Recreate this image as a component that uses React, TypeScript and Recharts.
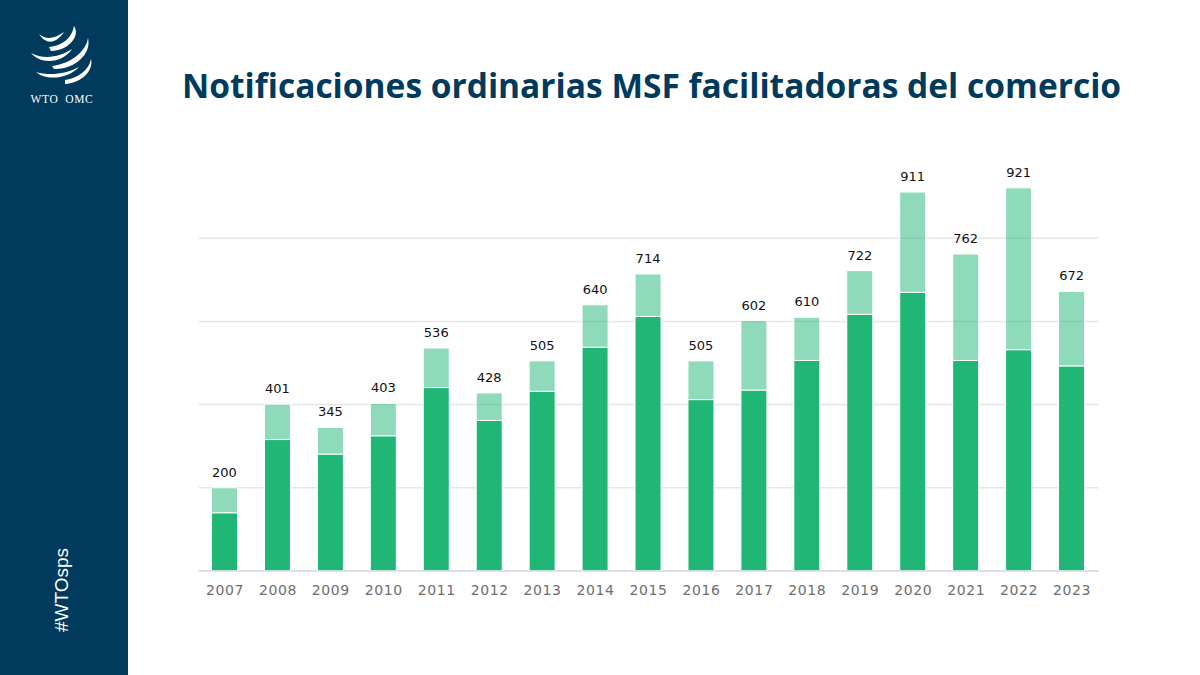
import { BarChart, Bar, XAxis, YAxis, CartesianGrid, LabelList } from 'recharts'

const years = ['2007', '2008', '2009', '2010', '2011', '2012', '2013', '2014', '2015', '2016', '2017', '2018', '2019', '2020', '2021', '2022', '2023']
const totals = [200, 401, 345, 403, 536, 428, 505, 640, 714, 505, 602, 610, 722, 911, 762, 921, 672]
const lower = [140, 316, 281, 325, 441, 362, 432, 538, 612, 412, 435, 506, 617, 670, 506, 532, 493]
const gridTicks = [0, 200, 400, 600, 800]

const data = years.map((year, i) => ({
  year,
  lower: lower[i],
  upper: totals[i]! - lower[i]!,
  total: totals[i],
}))

const NAVY = '#003a5c'
const GREEN = '#20b675'

// rough trace of the globe mark, the arcs taper so each one is a filled crescent
const logoArcs = [
  'M39 34 C46 40 54 39 64 32 C56 44 46 45 39 34 Z',
  'M49 47 C62 46 72 38 74 26 C81 36 68 51 51 51 Z',
  'M31 53 C44 60 60 57 72 49 C64 62 42 66 31 53 Z',
  'M52 66 C70 64 86 52 88 38 C92 54 74 70 54 69 Z',
  'M36 72 C50 76 66 74 79 67 C68 79 46 81 36 72 Z',
  'M65 80 C78 78 89 70 91 59 C94 70 82 83 65 84 Z',
]

export default function App() {
  return (
    <div style={{ position: 'absolute', left: 0, top: 0, width: 1200, height: 675, background: '#fff', overflow: 'hidden' }}>
      <div style={{ position: 'absolute', left: 0, top: 0, width: 128, height: 675, background: NAVY }} />
      <svg style={{ position: 'absolute', left: 0, top: 0 }} width={128} height={100}>
        {logoArcs.map((d) => (
          <path key={d} d={d} fill="#fff" />
        ))}
      </svg>
      <div style={{ position: 'absolute', left: 0, top: 93, width: 124, textAlign: 'center', color: '#fff', fontFamily: 'Liberation Serif', fontSize: 11.5, letterSpacing: 0.7, wordSpacing: 3 }}>
        WTO OMC
      </div>
      <div
        style={{
          position: 'absolute',
          left: 62,
          top: 632,
          color: '#fff',
          fontFamily: 'Liberation Sans',
          fontSize: 19,
          lineHeight: '22px',
          whiteSpace: 'nowrap',
          transformOrigin: '0 0',
          transform: 'rotate(-90deg) translateY(-11px)',
        }}
      >
        #WTOsps
      </div>
      <div style={{ position: 'absolute', left: 182, top: 62, color: NAVY, fontFamily: 'Open Sans', fontWeight: 700, fontSize: 33.5, lineHeight: '46px', whiteSpace: 'nowrap' }}>
        Notificaciones ordinarias MSF facilitadoras del comercio
      </div>
      <div style={{ position: 'absolute', left: 0, top: 0 }}>
        <BarChart
          width={1200}
          height={675}
          data={data}
          margin={{ top: 155, right: 101.5, bottom: 74, left: 198.5 }}
        >
          <CartesianGrid vertical={false} stroke="#e6e6e6" strokeWidth={1.5} horizontalValues={gridTicks} />
          <XAxis
            dataKey="year"
            axisLine={{ stroke: '#d9dcec', strokeWidth: 1.5 }}
            tickLine={false}
            interval={0}
            tickMargin={8}
            tick={{ fontFamily: 'DejaVu Sans', fontSize: 14, fill: '#6e6e6e', letterSpacing: 0.6 }}
          />
          <YAxis hide domain={[0, 1000]} ticks={gridTicks} />
          <Bar dataKey="lower" stackId="a" fill={GREEN} stroke="#fff" strokeWidth={1} barSize={26} isAnimationActive={false} />
          <Bar dataKey="upper" stackId="a" fill={GREEN} fillOpacity={0.5} stroke="#fff" strokeWidth={1} barSize={26} isAnimationActive={false}>
            <LabelList dataKey="total" position="top" offset={11} fontFamily="DejaVu Sans" fontSize={13} fill="#111" />
          </Bar>
        </BarChart>
      </div>
    </div>
  )
}
